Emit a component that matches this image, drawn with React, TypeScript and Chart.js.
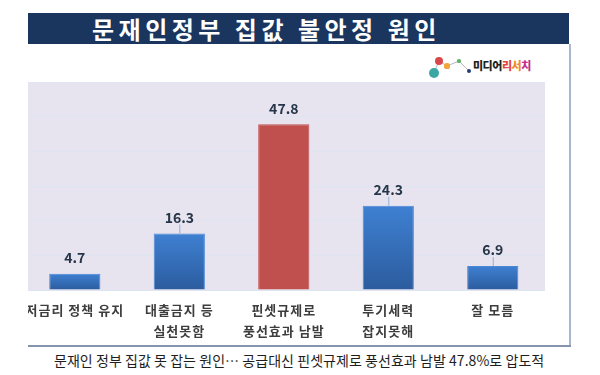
import React, { useEffect, useRef } from "react";
import { Chart, registerables } from "chart.js";

Chart.register(...registerables);

const categories: string[][] = [
  ["저금리 정책 유지"],
  ["대출금지 등", "실천못함"],
  ["핀셋규제로", "풍선효과 남발"],
  ["투기세력", "잡지못해"],
  ["잘 모름"],
];
const values: number[] = [4.7, 16.3, 47.8, 24.3, 6.9];
const highlightIndex = 2;
const leaderIndices: number[] = [1, 3, 4];
const yMin = 0;
const yMax = 60;
const yStep = 10;
const titleText = "문재인정부 집값 불안정 원인";
const captionText = "문재인 정부 집값 못 잡는 원인… 공급대신 핀셋규제로 풍선효과 남발 47.8%로 압도적";
const brandParts: string[] = ["미디어", "리", "서", "치"];

const FONT = "'Noto Sans CJK KR', 'Noto Sans', sans-serif";

const plotBgPlugin = {
  id: "plotBg",
  beforeDraw(chart: any) {
    const { ctx, chartArea } = chart;
    if (!chartArea) return;
    ctx.fillStyle = "#e7e3ef";
    ctx.fillRect(chartArea.left, chartArea.top, chartArea.right - chartArea.left, chartArea.bottom - chartArea.top);
    try {
      (ctx as any).letterSpacing = "1px";
    } catch (e) {}
  },
};

const valueLabelPlugin = {
  id: "valueLabels",
  afterDatasetsDraw(chart: any) {
    const { ctx } = chart;
    const meta = chart.getDatasetMeta(0);
    ctx.save();
    try {
      (ctx as any).letterSpacing = "0px";
    } catch (e) {}
    meta.data.forEach((bar: any, i: number) => {
      const x = bar.x;
      const y = bar.y;
      if (leaderIndices.includes(i)) {
        ctx.strokeStyle = "#8fb2dc";
        ctx.lineWidth = 1;
        ctx.beginPath();
        ctx.moveTo(x + 0.5, y);
        ctx.lineTo(x + 0.5, y - 9);
        ctx.stroke();
      }
      ctx.fillStyle = "#263548";
      ctx.font = `bold 14px ${FONT}`;
      ctx.textAlign = "center";
      ctx.textBaseline = "middle";
      ctx.fillText(String(values[i]), x, y - 16);
    });
    ctx.restore();
  },
};

function ChartBox() {
  const ref = useRef<HTMLCanvasElement | null>(null);
  useEffect(() => {
    if (!ref.current) return;
    const chart = new Chart(ref.current, {
      type: "bar",
      data: {
        labels: categories,
        datasets: [
          {
            data: values,
            backgroundColor: (c: any) => {
              const chartObj = c.chart;
              const i = c.dataIndex;
              if (i === highlightIndex) return "#c0504d";
              const ys = chartObj.scales && chartObj.scales.y;
              if (!ys || !chartObj.chartArea) return "#3a75c4";
              const top = ys.getPixelForValue(values[i]);
              const bottom = ys.getPixelForValue(0);
              const g = chartObj.ctx.createLinearGradient(0, top, 0, bottom);
              g.addColorStop(0, "#3f80d2");
              g.addColorStop(1, "#2b5c9e");
              return g;
            },
            borderColor: (c: any) => (c.dataIndex === highlightIndex ? "#c0504d" : "#4a88d6"),
            borderWidth: 1,
            borderSkipped: "bottom",
            barPercentage: 0.49,
            categoryPercentage: 1,
          },
        ],
      },
      options: {
        animation: false,
        responsive: false,
        maintainAspectRatio: false,
        devicePixelRatio: 1,
        layout: { padding: 0 },
        plugins: {
          legend: { display: false },
          tooltip: { enabled: false },
          title: { display: false },
        },
        scales: {
          x: {
            grid: { display: false, drawTicks: false },
            border: { display: false },
            ticks: {
              color: "#3d3d3d",
              font: { family: FONT, size: 13, weight: "bold", lineHeight: "21px" } as any,
              padding: 10,
              maxRotation: 0,
              autoSkip: false,
            },
            afterFit: (s: any) => {
              s.height = 56;
            },
          },
          y: {
            min: yMin,
            max: yMax,
            ticks: { display: false, stepSize: yStep },
            grid: { color: "#dde4f2", lineWidth: 1, drawTicks: false },
            border: { display: false },
            afterFit: (s: any) => {
              s.width = 0;
            },
          },
        },
      },
      plugins: [plotBgPlugin, valueLabelPlugin],
    });
    return () => chart.destroy();
  }, []);
  return (
    <canvas
      ref={ref}
      width={525}
      height={264}
      style={{ position: "absolute", left: -8, top: 0, width: 525, height: 264, display: "block" }}
    />
  );
}

function Logo() {
  const dot = (x: number, y: number, r: number, color: string) => (
    <div
      style={{
        position: "absolute",
        left: x - r,
        top: y - r,
        width: r * 2,
        height: r * 2,
        borderRadius: "50%",
        background: color,
      }}
    />
  );
  const brandColors = ["#222222", "#e0463c", "#f08a2a", "#c2308f"];
  return (
    <div style={{ position: "absolute", left: 0, top: 0, width: 600, height: 100, pointerEvents: "none" }}>
      <svg width={600} height={100} style={{ position: "absolute", left: 0, top: 0 }}>
        <polyline points="434,73 439,61 447,66 459,61 469,71" fill="none" stroke="#b8b8b8" strokeWidth={1} />
      </svg>
      {dot(439, 61, 4, "#d9464b")}
      {dot(447, 66, 2.6, "#f2a33a")}
      {dot(459, 61, 1.6, "#5fb36a")}
      {dot(469, 71, 2.2, "#1f3e78")}
      {dot(434, 73, 5, "#3aa7a4")}
      <div
        style={{
          position: "absolute",
          left: 473,
          top: 58,
          fontFamily: FONT,
          fontWeight: 900,
          fontSize: 11,
          lineHeight: "14px",
          letterSpacing: -0.5,
          whiteSpace: "nowrap",
        }}
      >
        {brandParts.map((p, i) => (
          <span key={i} style={{ color: brandColors[i] }}>
            {p}
          </span>
        ))}
      </div>
    </div>
  );
}

export default function App() {
  return (
    <div
      style={{
        position: "absolute",
        left: 0,
        top: 0,
        width: 600,
        height: 375,
        background: "#ffffff",
        overflow: "hidden",
      }}
    >
      <div
        style={{
          position: "absolute",
          left: 28,
          top: 13,
          width: 541,
          height: 31,
          background: "#1a365f",
        }}
      />
      <div
        style={{
          position: "absolute",
          left: 92,
          top: 13,
          height: 31,
          lineHeight: "31px",
          color: "#ffffff",
          fontFamily: FONT,
          fontWeight: 700,
          fontSize: 24,
          letterSpacing: 4.5,
          whiteSpace: "nowrap",
        }}
      >
        {titleText}
      </div>
      <div style={{ position: "absolute", left: 569, top: 44, width: 2, height: 303, background: "#aab6cc" }} />
      <div style={{ position: "absolute", left: 28, top: 345, width: 543, height: 2, background: "#8593ad" }} />
      <Logo />
      <div
        style={{
          position: "absolute",
          left: 28,
          top: 82,
          width: 518,
          height: 264,
          overflow: "hidden",
        }}
      >
        <ChartBox />
      </div>
      <div
        style={{
          position: "absolute",
          left: 54,
          top: 350,
          height: 20,
          lineHeight: "20px",
          color: "#1e1e1e",
          fontFamily: FONT,
          fontWeight: 400,
          fontSize: 14,
          letterSpacing: 0.05,
          whiteSpace: "nowrap",
        }}
      >
        {captionText}
      </div>
    </div>
  );
}
